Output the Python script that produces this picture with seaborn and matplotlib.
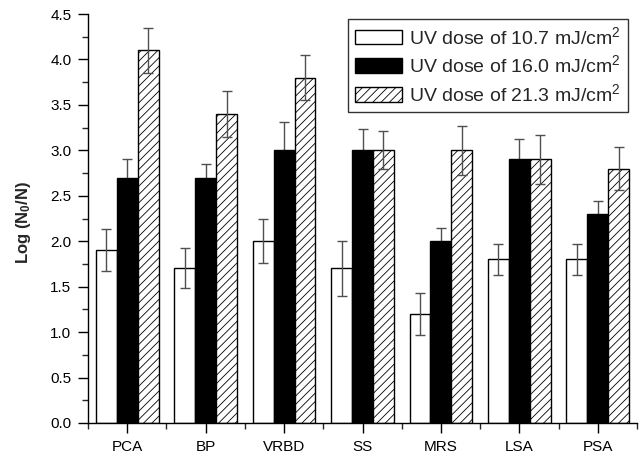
import numpy as np
import pandas as pd
import matplotlib
matplotlib.use("Agg")
import matplotlib.pyplot as plt
from matplotlib.ticker import MultipleLocator, FixedLocator
import seaborn as sns

categories = ["PCA", "BP", "VRBD", "SS", "MRS", "LSA", "PSA"]
doses = ["UV dose of 10.7 mJ/cm$^2$", "UV dose of 16.0 mJ/cm$^2$", "UV dose of 21.3 mJ/cm$^2$"]
dose_107 = [1.9, 1.7, 2.0, 1.7, 1.2, 1.8, 1.8]
dose_160 = [2.7, 2.7, 3.0, 3.0, 2.0, 2.9, 2.3]
dose_213 = [4.1, 3.4, 3.8, 3.0, 3.0, 2.9, 2.8]
err_107 = [0.23, 0.22, 0.24, 0.30, 0.23, 0.17, 0.17]
err_160 = [0.20, 0.15, 0.31, 0.23, 0.14, 0.22, 0.14]
err_213 = [0.25, 0.25, 0.25, 0.21, 0.27, 0.27, 0.24]

values = [dose_107, dose_160, dose_213]
errors = [err_107, err_160, err_213]

df = pd.DataFrame({
    "cat": np.repeat([categories], 3, axis=0).ravel(),
    "dose": np.repeat(doses, len(categories)),
    "val": np.concatenate(values),
})

sns.set_style("ticks")
plt.rcParams["font.family"] = ["Liberation Sans", "DejaVu Sans"]
plt.rcParams["mathtext.fontset"] = "custom"
plt.rcParams["mathtext.rm"] = "Liberation Sans"
plt.rcParams["mathtext.it"] = "Liberation Sans:italic"
plt.rcParams["mathtext.bf"] = "Liberation Sans:bold"
plt.rcParams["hatch.linewidth"] = 0.6
plt.rcParams["hatch.color"] = "#222222"

fig = plt.figure(figsize=(6.39, 4.54), dpi=100)
ax = fig.add_axes([88 / 639, 1 - 423 / 454, (637 - 88) / 639, (423 - 14) / 454])

sns.barplot(data=df, x="cat", y="val", hue="dose", order=categories, hue_order=doses,
            palette=["white", "black", "white"], edgecolor="black", linewidth=1.0,
            errorbar=None, width=0.8, ax=ax, legend=False, saturation=1)

bar_containers = list(ax.containers)
for i, cont in enumerate(bar_containers):
    xs = [p.get_x() + p.get_width() / 2 for p in cont.patches]
    hs = [p.get_height() for p in cont.patches]
    if i == 2:
        for p in cont.patches:
            p.set_hatch("////")
    ax.errorbar(xs, hs, yerr=errors[i], fmt="none", ecolor="#505050", elinewidth=1.0,
                capsize=3.6, capthick=1.0, zorder=(0.5 if i == 1 else 3))

ax.set_xlim(-0.5, 6.5)
ax.set_ylim(0, 4.5)
ax.yaxis.set_major_locator(MultipleLocator(0.5))
ax.yaxis.set_minor_locator(MultipleLocator(0.25))
ax.xaxis.set_minor_locator(FixedLocator(np.arange(-0.5, 7.0, 1.0)))
ax.yaxis.set_major_formatter(matplotlib.ticker.FormatStrFormatter("%.1f"))
ax.tick_params(axis="both", which="major", direction="out", length=7, width=1, labelsize=11, colors="black", pad=5)
ax.tick_params(axis="both", which="minor", direction="out", length=4.5, width=1)
ax.set_xlabel("")
ax.set_ylabel(r"Log (N$_\mathbf{0}$/N)", fontsize=12, fontweight="bold")
ax.yaxis.set_label_coords(-0.100, 0.49)
for side in ["top", "right"]:
    ax.spines[side].set_visible(False)
for side in ["left", "bottom"]:
    ax.spines[side].set_linewidth(1.0)
    ax.spines[side].set_color("black")

leg = ax.legend(bar_containers, doses, loc="upper right",
                bbox_to_anchor=(628 / 639, 1 - 19 / 454), bbox_transform=fig.transFigure,
                borderaxespad=0, fontsize=14, frameon=True, fancybox=False,
                handlelength=2.4, handleheight=0.8, handletextpad=0.4, labelspacing=0.35,
                borderpad=0.35)
leg.get_frame().set_edgecolor("black")
leg.get_frame().set_linewidth(1.0)

fig.savefig("out.png", dpi=100)
